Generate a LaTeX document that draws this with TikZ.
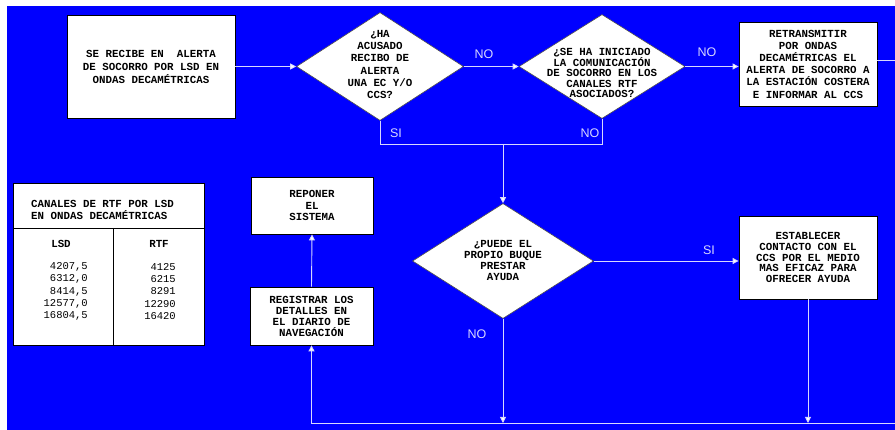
\documentclass[tikz,border=0pt]{standalone}
\usepackage{fontspec}
\newfontfamily\monof{Liberation Mono}
\newfontfamily\sansf{Liberation Sans}
\usetikzlibrary{shapes.geometric,arrows.meta}
\definecolor{bgblue}{RGB}{0,0,255}
\definecolor{ln}{RGB}{215,215,255}
\begin{document}
\begin{tikzpicture}[x=1pt,y=-1pt,
  bfont/.style={font=\monof\bfseries\fontsize{10.8}{#1}\selectfont},
  box/.style={draw=black, line width=0.8pt, fill=white, inner sep=0pt, align=center},
  dia/.style={diamond, draw=black!70, line width=0.6pt, fill=white, inner sep=0pt},
  dtext/.style={align=center, inner sep=0pt},
  conn/.style={draw=ln, line width=0.9pt},
  arr/.style={conn, -{Triangle[width=6pt,length=6pt,fill=white]}},
  lab/.style={text=ln, font=\sansf\fontsize{12.5}{14}\selectfont, inner sep=0pt}]
\useasboundingbox (0,0) rectangle (895,430);
\fill[white] (0,0) rectangle (895,430);
\fill[bgblue] (7,6) rectangle (895,430);

% top row
\node[box, bfont=13, minimum width=168pt, minimum height=103pt] (b1) at (151,66.5)
  {SE RECIBE EN~ ALERTA\\DE SOCORRO POR LSD EN\\ONDAS DECAMÉTRICAS};
\node[dia, minimum width=167pt, minimum height=108pt] (d1) at (380,66.5) {};
\node[dtext, bfont=12.2] (d1t) at (380,64.5)
  {¿HA\\ACUSADO\\RECIBO DE\\ALERTA\\UNA EC Y/O\\CCS?};
\node[dia, minimum width=166pt, minimum height=104pt] (d2) at (602,66.5) {};
\node[dtext, bfont=10.5] (d2t) at (602,73)
  {¿SE HA INICIADO\\LA COMUNICACIÓN\\DE SOCORRO EN LOS\\CANALES RTF\\ASOCIADOS?};
\node[box, bfont=12.2, minimum width=138pt, minimum height=84pt] (b3) at (808,64)
  {RETRANSMITIR\\POR ONDAS\\DECAMÉTRICAS EL\\ALERTA DE SOCORRO A\\LA ESTACIÓN COSTERA\\E INFORMAR AL CCS};

% middle
\node[dia, minimum width=181pt, minimum height=115pt] (d3) at (503,261) {};
\node[dtext, bfont=11] (d3t) at (503,260.5)
  {¿PUEDE EL\\PROPIO BUQUE\\PRESTAR\\AYUDA};
\node[box, bfont=10.8, minimum width=138pt, minimum height=83pt] (b4) at (808,257.5)
  {ESTABLECER\\CONTACTO CON EL\\CCS POR EL MEDIO\\MAS EFICAZ PARA\\OFRECER AYUDA};
\node[box, bfont=11.5, minimum width=122pt, minimum height=57pt] (rep) at (312,205.5)
  {REPONER\\EL\\SISTEMA};
\node[box, bfont=11, minimum width=123pt, minimum height=58pt] (reg) at (311.5,316)
  {REGISTRAR LOS\\DETALLES EN\\EL DIARIO DE\\NAVEGACIÓN};

% table
\node[box, minimum width=191pt, minimum height=162pt] (tbl) at (108.5,264) {};
\draw[line width=0.8pt] (13,228) -- (204,228);
\draw[line width=0.8pt] (113,228) -- (113,345);
\node[anchor=west, align=left, inner sep=0pt, bfont=12] (th) at (31,210)
  {CANALES DE RTF POR LSD\\EN ONDAS DECAMÉTRICAS};
\node[inner sep=0pt, bfont=12] (hl) at (61,244) {LSD};
\node[inner sep=0pt, bfont=12] (hr) at (159,244) {RTF};
\node[anchor=east, align=right, inner sep=0pt, font=\monof\fontsize{10.5}{12.3}\selectfont] (cl) at (88,291.5)
  {4207,5\\6312,0\\8414,5\\12577,0\\16804,5};
\node[anchor=east, align=right, inner sep=0pt, font=\monof\fontsize{10.5}{12.3}\selectfont] (cr) at (176,291.5)
  {4125\\6215\\8291\\12290\\16420};

% coordinates
\coordinate (j) at (503,144);
\coordinate (r1) at (895,60);
\coordinate (bot) at (503,423);
\coordinate (bR) at (895,423);

% connectors
\draw[arr] (b1.east) -- (d1.west);
\draw[arr] (d1.east) -- (d2.west);
\draw[arr] (d2.east) -- (d2.east -| b3.west);
\draw[conn] (b3.east |- r1) -- (r1);
\draw[conn] (d1.south) |- (d2.south |- j) -- (d2.south);
\draw[arr] (j) -- (d3.north);
\draw[arr] (d3.east) -- (d3.east -| b4.west);
\draw[arr] (d3.south) -- (d3.south |- bot);
\draw[arr] (b4.south) -- (b4.south |- bot);
\draw[arr] (bR) -| (reg.south);
\draw[arr] (reg.north) -- (rep.south);

% labels
\node[lab] (l1) at (484,54) {NO};
\node[lab] (l2) at (707,52) {NO};
\node[lab] (l3) at (396,133) {SI};
\node[lab] (l4) at (590,133) {NO};
\node[lab] (l5) at (709,250) {SI};
\node[lab] (l6) at (477,334) {NO};
\end{tikzpicture}
\end{document}
